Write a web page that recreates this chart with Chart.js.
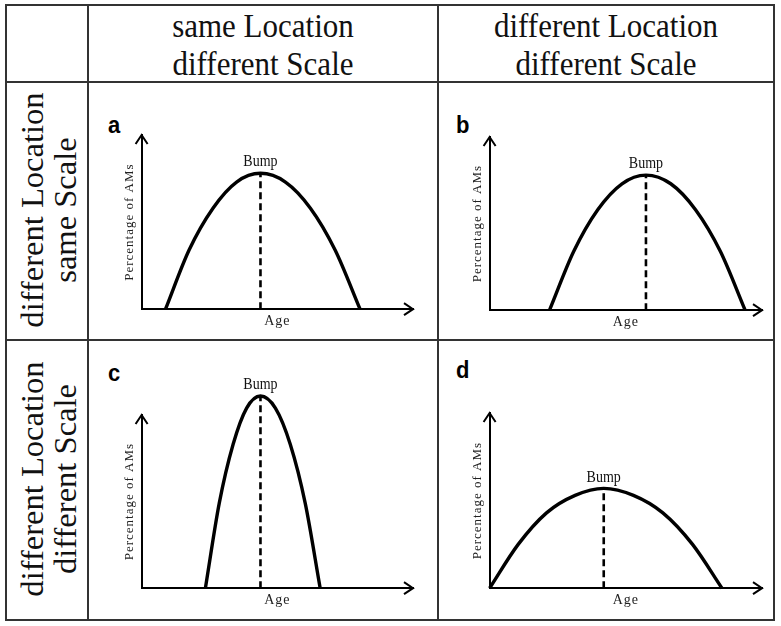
<!DOCTYPE html>
<html>
<head>
<meta charset="utf-8">
<script src="https://cdn.jsdelivr.net/npm/chart.js@4"></script>
<style>
  body { margin: 0; background: #fff; }
  #page { position: relative; width: 781px; height: 626px; overflow: hidden; background: #fff; }
  .hl, .vl { position: absolute; background: #333; }
  .hl { height: 2px; }
  .vl { width: 2px; }
  .head { position: absolute; font-family: "Liberation Serif", serif; font-size: 31px; line-height: 34px; height: 68px; color: #111; text-align: center; white-space: nowrap; transform: scaleY(1.12); }
  .rowhead { position: absolute; box-sizing: border-box; padding-top: 10px; font-family: "Liberation Serif", serif; font-size: 31px; line-height: 33px; color: #111; text-align: center; white-space: nowrap; transform: rotate(-90deg) scaleX(1.05); }
  .letter { position: absolute; font-family: "Liberation Sans", Arial, sans-serif; font-weight: bold; font-size: 22px; color: #000; transform: scaleY(1.12); }
  canvas { position: absolute; }
</style>
</head>
<body>
<div id="page">
  <div class="hl" style="left:5px;top:4px;width:770px"></div>
  <div class="hl" style="left:5px;top:81px;width:770px"></div>
  <div class="hl" style="left:5px;top:339px;width:770px"></div>
  <div class="hl" style="left:5px;top:619px;width:770px"></div>
  <div class="vl" style="left:5px;top:4px;height:617px"></div>
  <div class="vl" style="left:87px;top:4px;height:617px"></div>
  <div class="vl" style="left:437px;top:4px;height:617px"></div>
  <div class="vl" style="left:773px;top:4px;height:617px"></div>

  <div class="head" id="colHead0" style="left:89px;width:348px;top:11px"></div>
  <div class="head" id="colHead1" style="left:439px;width:334px;top:11px"></div>
  <div class="rowhead" id="rowHead0" style="left:-82px;top:169px;width:258px;height:82px"></div>
  <div class="rowhead" id="rowHead1" style="left:-93px;top:438px;width:280px;height:82px"></div>

  <div class="letter" id="letter0" style="left:108px;top:112px"></div>
  <div class="letter" id="letter1" style="left:456px;top:112px"></div>
  <div class="letter" id="letter2" style="left:108px;top:360px"></div>
  <div class="letter" id="letter3" style="left:456px;top:357px"></div>

  <canvas id="panel0" width="348" height="255" style="left:88px;top:83px"></canvas>
  <canvas id="panel1" width="334" height="255" style="left:439px;top:83px"></canvas>
  <canvas id="panel2" width="348" height="278" style="left:88px;top:341px"></canvas>
  <canvas id="panel3" width="334" height="278" style="left:439px;top:341px"></canvas>
</div>
<script>
// column / row headers and panel letters
const colHeaders = [["same Location", "different Scale"], ["different Location", "different Scale"]];
const rowHeaders = [["different Location", "same Scale"], ["different Location", "different Scale"]];
const panelLetters = ["a", "b", "c", "d"];
const xTitle = "Age";
const yTitle = "Percentage of AMs";
const bumpLabel = "Bump";

// curves (Age on 0-100, percentage on 0-100)
const ageA = [8.8, 17.5, 26.3, 35.0, 43.8, 53.0, 62.2, 71.3, 80.5];
const pctA = [0, 34, 58, 73, 78, 73, 58, 34, 0];
const ageB = [22.0, 30.9, 39.7, 48.6, 57.4, 66.5, 75.6, 84.7, 93.8];
const pctB = [0, 34, 58, 73, 78, 73, 58, 34, 0];
const ageC = [23.5, 28.6, 33.7, 38.7, 43.8, 49.3, 54.8, 60.3, 65.8];
const pctC = [0, 49, 83, 104, 111, 104, 83, 49, 0];
const ageD = [0, 10.5, 20.9, 31.4, 41.9, 52.8, 63.6, 74.5, 85.3];
const pctD = [0, 25, 43, 53, 57, 53, 43, 25, 0];

// bump (peak) of each panel
const bumpAge = [43.8, 57.4, 43.8, 41.9];
const bumpPct = [78, 78, 111, 57];

const curveAges = [ageA, ageB, ageC, ageD];
const curvePcts = [pctA, pctB, pctC, pctD];

const paddings = [
    {left: 34, top: 52, right: 23, bottom: 8},
    {left: 31, top: 54, right: 11, bottom: 7},
    {left: 34, top: 74, right: 23, bottom: 10},
    {left: 31, top: 72, right: 11, bottom: 10}
];

for (let i = 0; i < 2; i++) {
    document.getElementById("colHead" + i).innerHTML = colHeaders[i].join("<br>");
    document.getElementById("rowHead" + i).innerHTML = rowHeaders[i].join("<br>");
}
for (let i = 0; i < 4; i++) {
    document.getElementById("letter" + i).textContent = panelLetters[i];
}

const schemePlugin = {
    id: "scheme",
    beforeDraw(chart) {
        chart.ctx.letterSpacing = "1px";
    },
    beforeDatasetsDraw(chart) {
        chart.ctx.letterSpacing = "0px";
    },
    afterDraw(chart) {
        const ctx = chart.ctx;
        const a = chart.chartArea;
        const p = chart.options.plugins.scheme.panel;
        ctx.save();
        ctx.strokeStyle = "#000";
        ctx.lineWidth = 2;
        ctx.beginPath();
        ctx.moveTo(a.right - 9, a.bottom - 6);
        ctx.lineTo(a.right, a.bottom);
        ctx.lineTo(a.right - 9, a.bottom + 6);
        ctx.moveTo(a.left - 6, a.top + 9);
        ctx.lineTo(a.left, a.top);
        ctx.lineTo(a.left + 6, a.top + 9);
        ctx.stroke();

        // "Bump" above the peak, a bit stretched like the original
        const x = chart.scales.x.getPixelForValue(bumpAge[p]);
        const y = chart.scales.y.getPixelForValue(bumpPct[p]);
        ctx.translate(x, y - 3);
        ctx.scale(1, 1.15);
        ctx.fillStyle = "#111";
        ctx.font = "14px 'Liberation Serif'";
        ctx.textAlign = "center";
        ctx.textBaseline = "bottom";
        ctx.fillText(bumpLabel, 0, 0);
        ctx.restore();
    }
};

function drawPanel(p) {
    const ctx = document.getElementById("panel" + p).getContext("2d");
    const curve = curveAges[p].map((v, j) => ({x: v, y: curvePcts[p][j]}));
    const bump = [{x: bumpAge[p], y: 0}, {x: bumpAge[p], y: bumpPct[p]}];

    new Chart(ctx, {
        type: "line",
        data: {
            datasets: [{
                data: curve,
                borderColor: "#000",
                borderWidth: 3.4,
                pointRadius: 0,
                cubicInterpolationMode: "monotone",
                clip: false
            }, {
                data: bump,
                borderColor: "#000",
                borderWidth: 2.6,
                borderDash: [7, 4],
                pointRadius: 0,
                clip: false
            }]
        },
        options: {
            responsive: false,
            animation: false,
            devicePixelRatio: 1,
            layout: {padding: paddings[p]},
            plugins: {
                legend: {display: false},
                tooltip: {enabled: false},
                scheme: {panel: p}
            },
            scales: {
                x: {
                    type: "linear",
                    min: 0,
                    max: 100,
                    grid: {display: false, drawTicks: false},
                    ticks: {display: false},
                    border: {display: true, color: "#000", width: 2},
                    title: {
                        display: true,
                        text: xTitle,
                        color: "#222",
                        font: {family: "Liberation Serif", size: 14},
                        padding: {top: 4, bottom: 0}
                    }
                },
                y: {
                    type: "linear",
                    min: 0,
                    max: 100,
                    grid: {display: false, drawTicks: false},
                    ticks: {display: false},
                    border: {display: true, color: "#000", width: 2},
                    title: {
                        display: true,
                        text: yTitle,
                        color: "#222",
                        font: {family: "Liberation Serif", size: 13},
                        padding: {top: 0, bottom: 4}
                    }
                }
            }
        },
        plugins: [schemePlugin]
    });
}

for (let p = 0; p < 4; p++) {
    drawPanel(p);
}
</script>
</body>
</html>
